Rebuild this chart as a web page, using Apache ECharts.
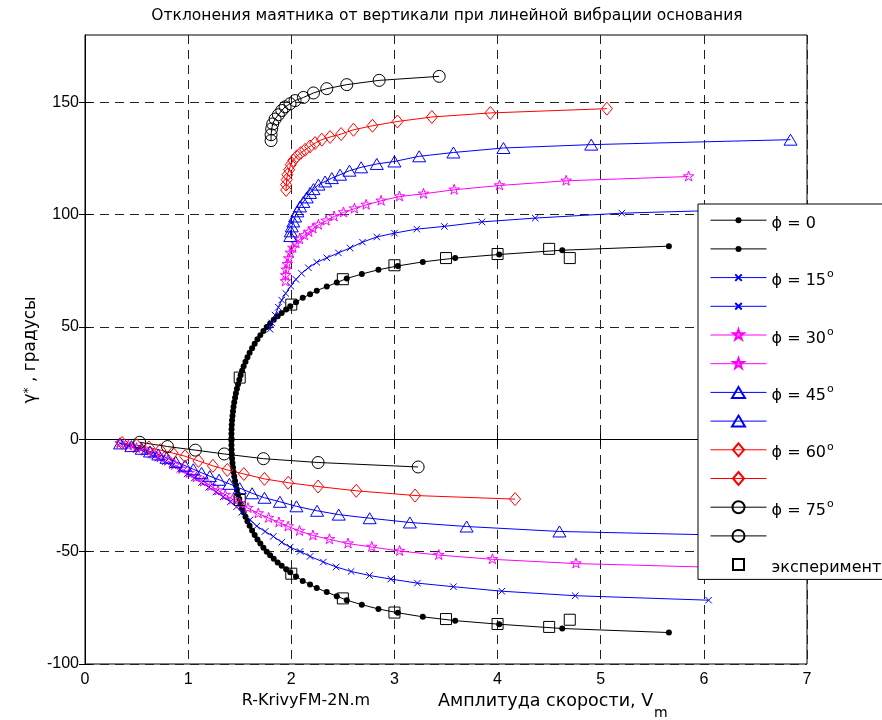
<!DOCTYPE html>
<html><head><meta charset="utf-8">
<script src="https://cdn.jsdelivr.net/npm/echarts@6/dist/echarts.min.js"></script>
<style>html,body{margin:0;padding:0;background:#fff}#c{width:882px;height:720px}</style>
</head><body><div id="c"></div>
<script>
const FONT = '"Liberation Sans", Arial, sans-serif';
const FONT2 = '"DejaVu Sans", sans-serif';

// ---- tick settings ----
const xTicks = [0, 1, 2, 3, 4, 5, 6, 7];
const yTicks = [-100, -50, 0, 50, 100, 150];

// ---- phi = 0 (upper / lower branch) ----
const phi0UpX = [1.42,1.42,1.421,1.423,1.426,1.43,1.435,1.44,1.447,1.455,1.463,1.473,1.484,1.496,1.509,1.523,1.538,1.556,1.575,1.596,1.62,1.645,1.672,1.7,1.73,1.762,1.795,1.83,1.868,1.907,1.95,1.99,2.046,2.111,2.182,2.247,2.344,2.441,2.538,2.684,2.845,3.033,3.275,3.589,4.016,4.627,5.661];
const phi0UpY = [0.5,2.5,4.5,6.5,8.5,10.5,12.5,14.5,16.5,18.5,20.5,22.5,24.5,26.5,28.5,30.5,32.5,34.5,36.5,38.5,40.6,42.6,44.6,46.4,48.2,50,51.6,53.2,54.8,56.3,57.8,59.2,61,63,64.6,66.2,68,69.8,71.6,73.6,75.5,77.2,79,80.7,82.3,84.2,86];
const phi0DnX = [1.42,1.42,1.421,1.423,1.426,1.43,1.435,1.44,1.447,1.455,1.463,1.473,1.484,1.496,1.509,1.523,1.538,1.556,1.575,1.596,1.62,1.645,1.672,1.7,1.73,1.762,1.795,1.83,1.868,1.907,1.95,1.99,2.046,2.111,2.182,2.247,2.344,2.441,2.538,2.684,2.845,3.033,3.275,3.589,4.016,4.627,5.661];
const phi0DnY = [-0.5,-2.5,-4.5,-6.5,-8.5,-10.5,-12.5,-14.5,-16.5,-18.5,-20.5,-22.5,-24.5,-26.5,-28.5,-30.5,-32.5,-34.5,-36.5,-38.5,-40.6,-42.6,-44.6,-46.4,-48.2,-50,-51.6,-53.2,-54.8,-56.3,-57.8,-59.2,-61,-63,-64.6,-66.2,-68,-69.8,-71.6,-73.6,-75.5,-77.2,-79,-80.7,-82.3,-84.2,-86];

// ---- phi = 15 ----
const phi15UpX = [1.794,1.811,1.843,1.875,1.907,1.946,1.995,2.045,2.1,2.166,2.247,2.344,2.457,2.57,2.69,2.829,3.0,3.217,3.485,3.848,4.365,5.205,6.05];
const phi15UpY = [49,51.8,55.3,58.8,62,65,68.2,71.2,73.9,76.4,78.8,80.8,83,85.2,87.8,90.1,91.8,93.6,94.8,96.8,98.5,100.7,101.8];
const phi15DnX = [0.34,0.42,0.5,0.57,0.64,0.71,0.78,0.85,0.92,0.99,1.06,1.13,1.2,1.27,1.34,1.41,1.47,1.52,1.6,1.665,1.746,1.826,1.907,1.988,2.085,2.182,2.311,2.435,2.58,2.758,2.965,3.223,3.572,4.041,4.753,6.046];
const phi15DnY = [-1.8,-2.9,-4.1,-5.4,-6.8,-8.3,-9.9,-11.6,-13.4,-15.3,-17.2,-19.2,-21.3,-23.4,-25.6,-27.8,-30,-32.5,-35.8,-38.6,-41,-43.2,-45.8,-48,-49.9,-52.1,-54.6,-56.8,-58.8,-60.6,-62.2,-64,-65.6,-67.6,-69.6,-71.6];

// ---- phi = 30 ----
const phi30UpX = [1.943,1.945,1.95,1.96,1.975,1.99,2.015,2.045,2.08,2.127,2.17,2.21,2.263,2.338,2.415,2.506,2.612,2.726,2.871,3.049,3.282,3.579,4.019,4.665,5.852];
const phi30UpY = [70.3,73,75.5,78,80.5,83,85.2,87.2,89,90.8,92.3,93.8,95.5,97.3,99.2,101,102.7,104.4,106.2,108.1,109.3,111.1,113,115.1,117];
const phi30DnX = [0.34,0.42,0.5,0.58,0.66,0.73,0.8,0.87,0.94,1.01,1.08,1.15,1.22,1.29,1.36,1.43,1.5,1.58,1.68,1.78,1.88,1.97,2.08,2.21,2.37,2.55,2.78,3.05,3.43,3.95,4.76,6.3];
const phi30DnY = [-1.8,-2.8,-3.9,-5.1,-6.5,-8,-9.6,-11.4,-13.2,-15,-16.9,-18.8,-20.8,-22.8,-24.8,-26.7,-28.5,-30.6,-33,-35,-37,-38.8,-40.8,-42.8,-44.5,-46.4,-47.9,-49.7,-51.5,-53.4,-55.3,-57.2];

// ---- phi = 45 ----
const phi45UpX = [1.99,1.995,2.005,2.02,2.037,2.059,2.085,2.117,2.15,2.182,2.215,2.263,2.328,2.393,2.473,2.564,2.677,2.829,3.0,3.24,3.572,4.057,4.908,6.84];
const phi45UpY = [90.5,92.6,94.8,97,99.2,101.5,103.7,105.7,107.7,109.7,111.4,113.4,114.8,116.3,117.8,119.6,121.1,122.6,123.7,126,127.7,129.7,131.2,133.4];
const phi45DnX = [0.34,0.45,0.55,0.63,0.71,0.79,0.88,0.97,1.05,1.13,1.21,1.3,1.4,1.5,1.62,1.74,1.89,2.05,2.25,2.46,2.76,3.15,3.7,4.6,6.84];
const phi45DnY = [-1.8,-3,-4.2,-5.4,-6.7,-8.2,-10,-11.7,-13.3,-14.9,-16.4,-18,-19.8,-21.7,-24,-26,-27.8,-29.8,-31.8,-33.5,-35.1,-37,-38.8,-41,-43.3];

// ---- phi = 60 ----
const phi60UpX = [1.95,1.95,1.956,1.962,1.979,1.995,2.02,2.053,2.092,2.134,2.182,2.231,2.296,2.376,2.483,2.603,2.787,3.03,3.363,3.93,5.06];
const phi60UpY = [111,113.4,115.6,117.8,120,122.3,124.2,126,127.5,128.9,130.4,131.9,133.4,134.6,135.9,137.8,139.6,141.5,143.5,145.3,147.2];
const phi60DnX = [0.36,0.5,0.62,0.73,0.85,0.97,1.1,1.24,1.38,1.54,1.74,1.97,2.26,2.63,3.2,4.17];
const phi60DnY = [-1.6,-2.6,-3.6,-4.8,-6.1,-7.5,-9.6,-11.8,-13.6,-15.4,-17.6,-19.3,-21,-22.9,-25,-26.6];

// ---- phi = 75 ----
const phi75UpX = [1.804,1.804,1.81,1.82,1.843,1.875,1.908,1.94,1.988,2.037,2.118,2.215,2.344,2.538,2.852,3.434];
const phi75UpY = [133,135.6,138.2,140.4,142.6,144.5,146.4,148,149.4,150.8,152.2,154.2,156.1,157.9,159.8,161.6];
const phi75DnX = [0.53,0.8,1.07,1.35,1.73,2.26,3.23];
const phi75DnY = [-1.3,-3.2,-4.8,-6.5,-8.6,-10.3,-12.3];

// ---- experiment ----
const expX = [1.5,2.0,2.5,3.0,3.5,4.0,4.5,4.7,1.5,2.0,2.5,3.0,3.5,4.0,4.5,4.7];
const expY = [27.5,60,71.3,77.5,80.7,82.5,84.8,80.7,-27,-59.8,-70.8,-77.1,-80,-82.2,-83.5,-80.3];

// ---- legend labels (same rich structure on every row so all rows share one height) ----
const legendNames = ['p0a','p0b','p15a','p15b','p30a','p30b','p45a','p45b','p60a','p60b','p75a','p75b','exp'];
const legendLabels = {
  p0a:'{t|ϕ = 0}{s| }', p0b:'{t| }{s| }',
  p15a:'{t|ϕ = 15}{s|o}', p15b:'{t| }{s| }',
  p30a:'{t|ϕ = 30}{s|o}', p30b:'{t| }{s| }',
  p45a:'{t|ϕ = 45}{s|o}', p45b:'{t| }{s| }',
  p60a:'{t|ϕ = 60}{s|o}', p60b:'{t| }{s| }',
  p75a:'{t|ϕ = 75}{s|o}', p75b:'{t| }{s| }',
  exp:'{t|эксперимент}{s| }'
};

// marker shapes drawn inside a 100x100 box (corner moves fix the box) so that
// legend and plot markers have the same size (box = 14.4 px)
const BOXSZ = 14.4;
const BOX = 'M0,0 M100,100 ';
const SYM_DOT = 'path://' + BOX + 'M70.8,50 A20.8,20.8 0 1,1 29.2,50 A20.8,20.8 0 1,1 70.8,50 Z';
const SYM_CROSS = 'path://' + BOX + 'M27.4,27.4 L72.6,72.6 M72.6,27.4 L27.4,72.6';
const SYM_STAR = 'path://' + BOX + 'M50,11.8 L58.6,38.2 L86.3,38.2 L63.9,54.5 L72.5,80.9 L50,64.6 L27.5,80.9 L36.1,54.5 L13.7,38.2 L41.4,38.2 Z';
const SYM_TRI = 'path://' + BOX + 'M50,11.8 L95.1,88.2 L4.9,88.2 Z';
const SYM_DIAM = 'path://' + BOX + 'M50,4.9 L88.2,50 L50,95.1 L11.8,50 Z';
const SYM_CIRC = 'path://' + BOX + 'M91.7,50 A41.7,41.7 0 1,1 8.3,50 A41.7,41.7 0 1,1 91.7,50 Z';
const SYM_SQ = 'path://' + BOX + 'M11.8,11.8 L88.2,11.8 L88.2,88.2 L11.8,88.2 Z';

const BLUE = '#0000ff', MAG = '#ff00ff', RED = '#ff0000', BLK = '#000000';

function pairs(xs, ys) { return xs.map((x, i) => [x, ys[i]]); }

function mk(name, xs, ys, color, symbol, filled) {
  return {
    name: name, type: 'line', data: pairs(xs, ys),
    symbol: symbol, symbolSize: BOXSZ, showSymbol: true, showAllSymbol: true,
    symbolKeepAspect: true,
    lineStyle: { color: color, width: 1 },
    itemStyle: filled ? { color: color, borderColor: color, borderWidth: 0 }
                      : { color: 'rgba(255,255,255,0)', borderColor: color, borderWidth: 1 },
    emphasis: { disabled: true },
    animation: false, silent: true, clip: true
  };
}

const series = [
  mk('p0a', phi0UpX, phi0UpY, BLK, SYM_DOT, true),
  mk('p0b', phi0DnX, phi0DnY, BLK, SYM_DOT, true),
  mk('p15a', phi15UpX, phi15UpY, BLUE, SYM_CROSS, false),
  mk('p15b', phi15DnX, phi15DnY, BLUE, SYM_CROSS, false),
  mk('p30a', phi30UpX, phi30UpY, MAG, SYM_STAR, false),
  mk('p30b', phi30DnX, phi30DnY, MAG, SYM_STAR, false),
  mk('p45a', phi45UpX, phi45UpY, BLUE, SYM_TRI, false),
  mk('p45b', phi45DnX, phi45DnY, BLUE, SYM_TRI, false),
  mk('p60a', phi60UpX, phi60UpY, RED, SYM_DIAM, false),
  mk('p60b', phi60DnX, phi60DnY, RED, SYM_DIAM, false),
  mk('p75a', phi75UpX, phi75UpY, BLK, SYM_CIRC, false),
  mk('p75b', phi75DnX, phi75DnY, BLK, SYM_CIRC, false)
];
const expSeries = mk('exp', expX, expY, BLK, SYM_SQ, false);
expSeries.lineStyle = { color: BLK, width: 0, opacity: 0 };
series.push(expSeries);

const grid = { left: 85, top: 35, width: 722, height: 629, show: true, borderColor: '#000', borderWidth: 1, backgroundColor: '#fff' };
const dash = { type: [9, 6], color: '#222', width: 1 };

const option = {
  animation: false,
  backgroundColor: '#fff',
  grid: grid,
  xAxis: [{
    type: 'value', min: xTicks[0], max: xTicks[xTicks.length - 1], interval: 1,
    axisLine: { show: true, lineStyle: { color: '#000' } },
    axisTick: { show: true, inside: true, length: 6, lineStyle: { color: '#000' } },
    axisLabel: { color: '#000', fontSize: 16, fontFamily: FONT, margin: 8 },
    splitLine: { show: true, lineStyle: dash }
  }, {
    type: 'value', position: 'top', min: xTicks[0], max: xTicks[xTicks.length - 1], interval: 1,
    axisLine: { show: true, lineStyle: { color: '#000' } },
    axisTick: { show: true, inside: true, length: 6, lineStyle: { color: '#000' } },
    axisLabel: { show: false }, splitLine: { show: false }
  }],
  yAxis: [{
    type: 'value', min: yTicks[0], max: 180, interval: 50,
    axisLine: { show: true, lineStyle: { color: '#000' } },
    axisTick: { show: true, inside: true, length: 6, lineStyle: { color: '#000' }, customValues: yTicks },
    axisLabel: { color: '#000', fontSize: 16, fontFamily: FONT, margin: 6, customValues: yTicks },
    splitLine: { show: true, lineStyle: dash }
  }, {
    type: 'value', position: 'right', min: yTicks[0], max: 180, interval: 50,
    axisLine: { show: true, lineStyle: { color: '#000' } },
    axisTick: { show: true, inside: true, length: 6, lineStyle: { color: '#000' }, customValues: yTicks },
    axisLabel: { show: false }, splitLine: { show: false }
  }],
  legend: {
    orient: 'vertical', left: 698, top: 204,
    backgroundColor: '#fff', borderColor: '#000', borderWidth: 1, borderRadius: 0,
    padding: [7.7, 200, 3.3, 12],
    itemWidth: 56, itemHeight: 18, itemGap: 8.7,
    selectedMode: false,
    data: legendNames,
    formatter: n => legendLabels[n],
    lineStyle: { width: 1 },
    textStyle: {
      color: '#000', fontSize: 16, fontFamily: FONT2,
      rich: {
        t: { fontSize: 16, fontFamily: FONT2, color: '#000', padding: [7, 0, 0, 0] },
        s: { fontSize: 11, fontFamily: FONT2, color: '#000', verticalAlign: 'top', padding: [3, 0, 0, 1] }
      }
    }
  },
  graphic: [
    { type: 'text', style: { text: 'Отклонения маятника от вертикали при линейной вибрации основания', x: 447, y: 16, align: 'center', verticalAlign: 'middle', fontSize: 15.5, fontFamily: FONT2, fill: '#000' } },
    { type: 'text', style: { text: '{g|γ}{s|*}{t| , градусы}', x: 0, y: 0, align: 'center', verticalAlign: 'middle',
        rich: { g: { fontSize: 17, fontFamily: FONT2 }, s: { fontSize: 12, fontFamily: FONT2, verticalAlign: 'top' }, t: { fontSize: 17, fontFamily: FONT2 } }, fill: '#000' },
      x: 31, y: 350, rotation: Math.PI / 2 },
    { type: 'text', style: { text: 'R-KrivyFM-2N.m', x: 306, y: 701, align: 'center', verticalAlign: 'middle', fontSize: 16, fontFamily: FONT2, fill: '#000' } },
    { type: 'text', style: { text: '{a|Амплитуда скорости, V}{m|m}', x: 0, y: 0, align: 'left', verticalAlign: 'middle',
        rich: { a: { fontSize: 17.5, fontFamily: FONT2, padding: [0, 0, 12, 0] }, m: { fontSize: 14, fontFamily: FONT2, padding: [12, 0, 0, 1] } }, fill: '#000' },
      x: 438, y: 707 }
  ],
  series: series
};

const chart = echarts.init(document.getElementById('c'));
chart.setOption(option);
</script></body></html>
